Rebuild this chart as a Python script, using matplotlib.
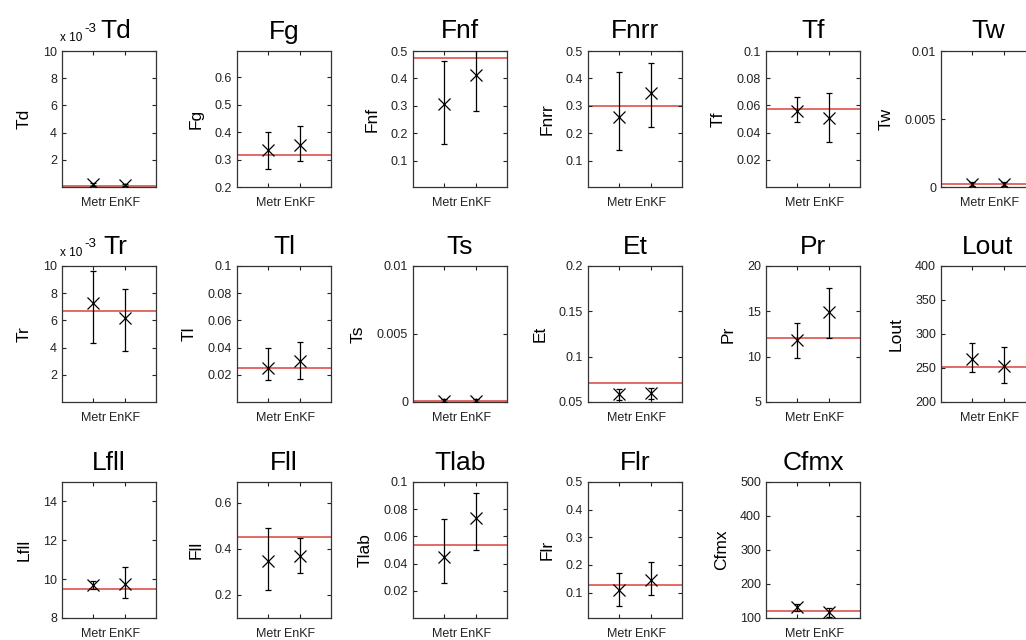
import matplotlib
matplotlib.use("Agg")
import matplotlib.pyplot as plt
from matplotlib.ticker import FuncFormatter

plt.rcParams['font.family'] = ['Liberation Sans', 'DejaVu Sans']

# panel names, in reading order (6 per row)
names = ['Td', 'Fg', 'Fnf', 'Fnrr', 'Tf', 'Tw',
         'Tr', 'Tl', 'Ts', 'Et', 'Pr', 'Lout',
         'Lfll', 'Fll', 'Tlab', 'Flr', 'Cfmx']

# estimates: mean and error bar ends
metr_mean = [0.0002, 0.335, 0.308, 0.259, 0.0558, 0.00024,
             0.00727, 0.025, 0.0001, 0.0584, 11.88, 263.9,
             9.72, 0.347, 0.045, 0.111, 132]
metr_lo = [0.00008, 0.265, 0.161, 0.139, 0.0476, 0.0001,
           0.00435, 0.016, 0.00002, 0.0522, 9.87, 244.4,
           9.47, 0.222, 0.026, 0.0506, 121]
metr_hi = [0.00032, 0.401, 0.463, 0.422, 0.0661, 0.0004,
           0.00963, 0.040, 0.0002, 0.0639, 13.7, 286.8,
           9.9, 0.489, 0.0726, 0.169, 142]

enkf_mean = [0.00015, 0.353, 0.412, 0.348, 0.0509, 0.00024,
             0.00617, 0.030, 0.0001, 0.0602, 14.88, 252.7,
             9.75, 0.369, 0.0736, 0.147, 117]
enkf_lo = [0.00005, 0.295, 0.283, 0.222, 0.0333, 0.0001,
           0.00373, 0.017, 0.00002, 0.0537, 12.06, 227.3,
           9.03, 0.294, 0.0498, 0.090, 103]
enkf_hi = [0.00025, 0.423, 0.54, 0.455, 0.0694, 0.0004,
           0.00832, 0.044, 0.0002, 0.0657, 17.55, 280.5,
           10.6, 0.449, 0.0922, 0.211, 130]

# true parameter values (red lines)
truth = [0.0001, 0.318, 0.473, 0.299, 0.0573, 0.0002,
         0.00671, 0.025, 0.0001, 0.0705, 12.06, 251.7,
         9.47, 0.451, 0.0535, 0.126, 120]

ylims = [(0, 0.01), (0.2, 0.695), (0.004, 0.5), (0.004, 0.5), (0, 0.1), (0, 0.01),
         (0, 0.01), (0, 0.1), (0, 0.01), (0.05, 0.2), (5, 20), (200, 400),
         (8, 15), (0.1, 0.69), (0, 0.1), (0.008, 0.5), (100, 500)]
yticks = [[0.002, 0.004, 0.006, 0.008, 0.01], [0.2, 0.3, 0.4, 0.5, 0.6],
          [0.1, 0.2, 0.3, 0.4, 0.5], [0.1, 0.2, 0.3, 0.4, 0.5],
          [0.02, 0.04, 0.06, 0.08, 0.1], [0, 0.005, 0.01],
          [0.002, 0.004, 0.006, 0.008, 0.01], [0.02, 0.04, 0.06, 0.08, 0.1],
          [0, 0.005, 0.01], [0.05, 0.1, 0.15, 0.2], [5, 10, 15, 20],
          [200, 250, 300, 350, 400], [8, 10, 12, 14], [0.2, 0.4, 0.6],
          [0.02, 0.04, 0.06, 0.08, 0.1], [0.1, 0.2, 0.3, 0.4, 0.5],
          [100, 200, 300, 400, 500]]
scaled = ['Td', 'Tr']  # panels shown as x 10^-3

methods = ['Metr', 'EnKF']

fig = plt.figure(figsize=(10.26, 6.4), dpi=100)
col_x = [62, 237, 413, 588, 766, 941]
row_top = [51, 266, 482]
W, H = 94, 136

for i, name in enumerate(names):
    r, c = divmod(i, 6)
    ax = fig.add_axes([col_x[c] / 1026, 1 - (row_top[r] + H) / 640, W / 1026, H / 640])

    ax.axhline(truth[i], color='#d8423c', lw=1.1, zorder=1)
    means = [metr_mean[i], enkf_mean[i]]
    err = [[metr_mean[i] - metr_lo[i], enkf_mean[i] - enkf_lo[i]],
           [metr_hi[i] - metr_mean[i], enkf_hi[i] - enkf_mean[i]]]
    ax.errorbar([1, 2], means, yerr=err, fmt='x', color='k', ms=8, mew=0.9,
                elinewidth=0.9, capsize=2.5, capthick=0.9, zorder=3)

    ax.set_xlim(0, 3)
    ax.set_ylim(*ylims[i])
    ax.set_xticks([1, 2])
    ax.set_xticklabels(methods)
    ax.set_yticks(yticks[i])
    title_x = 0.5
    if name in scaled:
        ax.yaxis.set_major_formatter(FuncFormatter(lambda v, p: f"{v * 1e3:g}"))
        ax.annotate('x 10', xy=(0, 1), xycoords='axes fraction', xytext=(-2, 7),
                    textcoords='offset pixels', fontsize=8.5, ha='left', va='bottom')
        ax.annotate('-3', xy=(0, 1), xycoords='axes fraction', xytext=(22, 16),
                    textcoords='offset pixels', fontsize=9.5, ha='left', va='bottom')
        title_x = 0.57
    else:
        ax.yaxis.set_major_formatter(FuncFormatter(lambda v, p: f"{v:g}"))

    ax.tick_params(direction='in', top=True, right=True, length=3, width=0.8,
                   labelsize=9, colors='#222222', labelcolor='#222222')
    ax.tick_params(axis='x', pad=7)
    for s in ax.spines.values():
        s.set_linewidth(0.9)
        s.set_color('#333333')

    ax.set_title(name, fontsize=19, pad=9, x=title_x)
    ax.set_ylabel(name, fontsize=12.5, labelpad=8)

fig.savefig('out.png', dpi=100)
